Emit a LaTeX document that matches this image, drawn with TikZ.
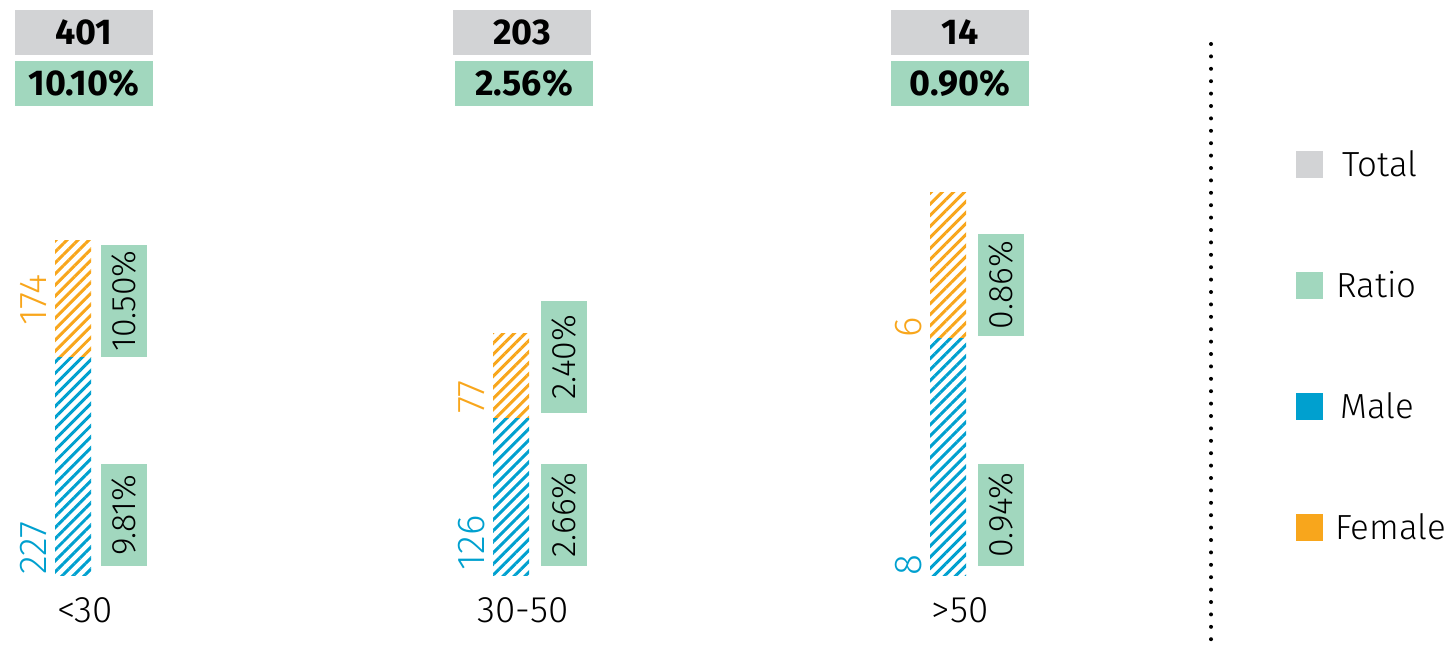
\documentclass[tikz,border=0pt]{standalone}
\usepackage{fontspec}
\setmainfont{Fira Sans}
\newfontfamily\lightfont{Fira Sans Light}
\usetikzlibrary{patterns.meta}
\definecolor{totalgray}{RGB}{210,211,213}
\definecolor{ratiogreen}{RGB}{161,215,190}
\definecolor{malecol}{RGB}{0,160,207}
\definecolor{femalecol}{RGB}{248,166,28}
\begin{document}
\begin{tikzpicture}
  [x=1bp,y=-1bp,
   every node/.style={inner sep=0pt, font=\lightfont\fontsize{37}{40}\selectfont},
   topbox/.style={minimum width=138bp, minimum height=45bp, font=\fontsize{36}{40}\selectfont\bfseries},
   ratiobox/.style={fill=ratiogreen, rotate=90, minimum height=46bp, font=\lightfont\fontsize{34}{38}\selectfont},
   count/.style={rotate=90, font=\lightfont\fontsize{39}{42}\selectfont},
   malebar/.style={pattern={Lines[angle=45,distance=7.8bp,line width=3bp]}, pattern color=malecol},
   femalebar/.style={pattern={Lines[angle=45,distance=7.8bp,line width=3bp]}, pattern color=femalecol},
   key/.style={minimum size=27bp},
   keytext/.style={anchor=west, font=\lightfont\fontsize{35}{38}\selectfont}]
  \useasboundingbox (0,0) rectangle (1452,649);

  % <30
  \node[topbox, fill=totalgray]  (t1) at (84,32.5) {401};
  \node[topbox, fill=ratiogreen] (p1) at (84,83.5) {10.10\%};
  \fill[femalebar] (55,240) rectangle (91,357);
  \fill[malebar]   (55,357) rectangle (91,575);
  \node[count, text=femalecol] (f1) at (34,300) {174};
  \node[count, text=malecol]   (m1) at (34,548) {227};
  \node[ratiobox, minimum width=112bp] (rf1) at (124,301) {10.50\%};
  \node[ratiobox, minimum width=102bp] (rm1) at (124,515) {9.81\%};
  \node (c1) at (85,610) {<30};

  % 30-50
  \node[topbox, fill=totalgray]  (t2) at (522,32.5) {203};
  \node[topbox, fill=ratiogreen] (p2) at (524,83.5) {2.56\%};
  \fill[femalebar] (493,333) rectangle (529,418);
  \fill[malebar]   (493,418) rectangle (529,575);
  \node[count, text=femalecol] (f2) at (472,397) {77};
  \node[count, text=malecol]   (m2) at (472,543) {126};
  \node[ratiobox, minimum width=112bp] (rf2) at (564,357) {2.40\%};
  \node[ratiobox, minimum width=102bp] (rm2) at (564,515) {2.66\%};
  \node (c2) at (523,610) {30-50};

  % >50
  \node[topbox, fill=totalgray]  (t3) at (960,32.5) {14};
  \node[topbox, fill=ratiogreen] (p3) at (960,83.5) {0.90\%};
  \fill[femalebar] (930,192) rectangle (966,338);
  \fill[malebar]   (930,338) rectangle (966,575);
  \node[count, text=femalecol] (f3) at (909,327) {6};
  \node[count, text=malecol]   (m3) at (909,565) {8};
  \node[ratiobox, minimum width=102bp] (rf3) at (1001,285) {0.86\%};
  \node[ratiobox, minimum width=102bp] (rm3) at (1001,515) {0.94\%};
  \node (c3) at (960,610) {>50};

  % legend
  \coordinate (d1) at (1211,44);
  \coordinate (d2) at (1211,649);
  \draw[line width=4bp, line cap=round, dash pattern=on 0bp off 12.4bp] (d1) -- (d2);
  \node[key, fill=totalgray]  (k1) at (1309.5,164) {};
  \node[key, fill=ratiogreen] (k2) at (1309.5,285) {};
  \node[key, fill=malecol]    (k3) at (1309.5,406) {};
  \node[key, fill=femalecol]  (k4) at (1309.5,527) {};
  \node[keytext] (l1) at (1342,164) {Total};
  \node[keytext] (l2) at (1336,285) {Ratio};
  \node[keytext] (l3) at (1340,406) {Male};
  \node[keytext] (l4) at (1335,527) {Female};
\end{tikzpicture}
\end{document}
